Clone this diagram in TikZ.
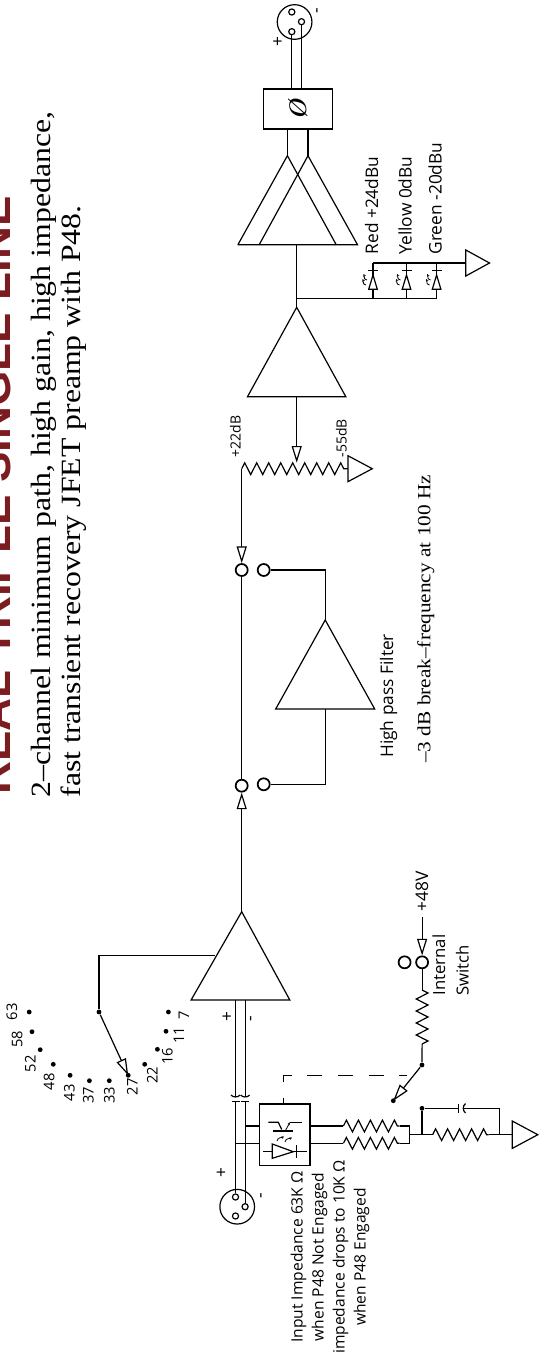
\documentclass[tikz,border=0pt]{standalone}
\usepackage{fontspec}
\setsansfont{Open Sans}
\newfontfamily\titlefont{Liberation Sans}
\newfontfamily\capfont[FakeStretch=1.14]{Liberation Serif}
\usetikzlibrary{arrows.meta,decorations.pathmorphing}
\definecolor{titlered}{HTML}{7B1C20}
\tikzset{every picture/.style={line width=0.9pt}}
\tikzset{
  lbl/.style={rotate=90,anchor=base west,inner sep=0pt,font=\sffamily\fontsize{13}{15}\selectfont},
  numlbl/.style={rotate=90,anchor=center,inner sep=0pt,font=\sffamily\fontsize{11}{12}\selectfont},
  signlbl/.style={rotate=90,anchor=center,inner sep=0pt,font=\sffamily\fontsize{13}{14}\selectfont},
  serifcap/.style={rotate=90,anchor=base west,inner sep=0pt},
  contact/.style={circle,draw,line width=1.3pt,minimum size=9pt,inner sep=0pt},
  pin/.style={circle,draw,minimum size=4.6pt,inner sep=0pt},
  xlrbody/.style={circle,draw,minimum size=26pt,inner sep=0pt},
  dot/.style={circle,fill,minimum size=3.6pt,inner sep=0pt},
  opentip/.style={-{Triangle[open,fill=white,length=12.5pt,width=7.5pt]}},
  smalltip/.style={-{Stealth[length=2pt,width=2pt]},line width=0.6pt},
  zig/.style={decorate,decoration={zigzag,segment length=9pt,amplitude=4.4pt}}
}

\begin{document}
\begin{tikzpicture}[x=0.75pt,y=0.75pt,yscale=-1,xscale=1]
\useasboundingbox (0,0) rectangle (539,1356);

% Title and caption
\node (title) [rotate=90,anchor=base west,inner sep=0pt,text=titlered,font=\titlefont\bfseries\fontsize{34.2}{36}\selectfont] at (10,795) {REAL TRIPLE SINGLE LINE};
\node (capone) [serifcap,font=\capfont\fontsize{20.9}{24}\selectfont] at (50,798) {2–channel minimum path, high gain, high impedance,};
\node (captwo) [serifcap,font=\capfont\fontsize{20.9}{24}\selectfont] at (80,798) {fast transient recovery JFET preamp with P48.};

% Output connector
\node (outbody) [xlrbody] at (294.6,22) {};
\node (outp) [pin] at (291.8,31.7) {};
\node (outm) [pin] at (301.5,21.7) {};
\node (outg) [pin] at (291.8,12) {};
\node (outplus) [signlbl] at (278.4,42) {+};
\node (outminus) [signlbl] at (319,11) {-};

% Phase box
\node (phase) [draw,minimum width=51.75pt,minimum height=30pt,inner sep=0pt] at (297.8,109) {};
\node (phasesym) [rotate=90,inner sep=0pt,font=\fontsize{18}{18}\selectfont\itshape\bfseries] at (298.4,110) {Ø};
\coordinate (phasep) at (291.8,89);
\coordinate (phasem) at (301.5,89);
\draw (outp) -- (phasep);
\draw (outm) -- (phasem);

% Output amp, two triangles
\coordinate (drvl) at (287.4,155.7);
\coordinate (drvr) at (308,155.7);
\draw (237.9,244.7) -- (drvl) -- (336.2,244.7);
\draw (259.2,244.7) -- (drvr) -- (357.5,244.7) -- (237.9,244.7);
\draw (287.4,129) -- (drvl);
\draw (308,129) -- (drvr);

% Line amp
\coordinate (drvin) at (296.7,244.7);
\coordinate (lineout) at (296.7,307.3);
\coordinate (ledbus) at (296.7,298.3);
\coordinate (lineamp) at (296.7,396.7);
\draw (247.5,396.7) -- (lineout) -- (345.8,396.7) -- cycle;
\draw (drvin) -- (lineout);

% LED meter
\draw (ledbus) -- (436.6,298.3);
\draw (373,263) -- (465.8,263);
\draw (373,298.3) -- (373,263);
\draw (406.5,298.3) -- (406.5,263);
\draw (436.6,298.3) -- (436.6,263);
\draw [fill=white] (368.7,289.3) -- (377.3,289.3) -- (373,275) -- cycle;
\draw (368,270.7) -- (378,270.7);
\draw [fill=white] (402.2,289.3) -- (410.8,289.3) -- (406.5,275) -- cycle;
\draw (401.5,270.7) -- (411.5,270.7);
\draw [fill=white] (432.3,289.3) -- (440.9,289.3) -- (436.6,275) -- cycle;
\draw (431.6,270.7) -- (441.6,270.7);
\draw [smalltip] (366,285) .. controls (362,284) and (364,282) .. (362.5,279);
\draw [smalltip] (367,280) .. controls (363,279) and (365,277) .. (363.5,274);
\draw [smalltip] (399.5,285) .. controls (395.5,284) and (397.5,282) .. (396,279);
\draw [smalltip] (400.5,280) .. controls (396.5,279) and (398.5,277) .. (397,274);
\draw [smalltip] (429.6,285) .. controls (425.6,284) and (427.6,282) .. (426.1,279);
\draw [smalltip] (430.6,280) .. controls (426.6,279) and (428.6,277) .. (427.1,274);
\draw [fill=white] (465.8,250) -- (489.5,263) -- (465.8,276) -- cycle;

% Text Node
\node (redled) [lbl] at (378,255) {Red +24dBu};
\node (yellowled) [lbl] at (411.5,255) {Yellow 0dBu};
\node (greenled) [lbl] at (441.7,255) {Green -20dBu};

% Gain pot
\coordinate (potl) at (241.7,468.7);
\coordinate (potw) at (296.7,462.7);
\coordinate (potr) at (347.9,468.7);
\draw [zig] (potl) -- (potr);
\draw [opentip] (lineamp) -- (potw);
\draw [fill=white] (347.9,455.7) -- (372.3,468.7) -- (347.9,481.7) -- cycle;
\node (potplus) [lbl,font=\sffamily\fontsize{10.5}{12}\selectfont] at (240.6,458) {+22dB};
\node (potminus) [lbl,font=\sffamily\fontsize{10.5}{12}\selectfont] at (346.5,457.7) {-55dB};

% High pass switch
\node (hpa) [contact] at (241.7,570) {};
\node (hpb) [contact] at (263.7,570) {};
\node (hpc) [contact] at (241.7,785.7) {};
\node (hpd) [contact] at (263.7,784.3) {};
\draw [opentip] (potl) -- (hpa);
\draw (hpa) -- (hpc);
\coordinate (hpout) at (325.2,620);
\coordinate (hpin) at (325.2,709);
\draw (275.7,709) -- (hpout) -- (374.7,709) -- cycle;
\draw (hpb) -| (hpout);
\draw (hpd) -| (hpin);
\node (hplabel) [lbl] at (393,758.3) {High pass Filter};
\node (hpnote) [serifcap,font=\capfont\fontsize{14}{17}\selectfont] at (430.4,763.3) {–3 dB break–frequency at 100 Hz};

% Mic amp
\coordinate (micout) at (241.7,911.7);
\draw (191.1,1000) -- (micout) -- (289.8,1000) -- cycle;
\draw [opentip] (micout) -- (hpc);
\coordinate (fbk) at (214.8,955.7);
\node (wiper) [dot] at (99,1012) {};
\draw (fbk) -| (wiper);

% Gain switch
\node (sa) [dot] at (29.2,1012) {};
\node (sb) [dot] at (32,1031.7) {};
\node (sc) [dot] at (40.2,1049.7) {};
\node (sd) [dot] at (53.3,1064.3) {};
\node (se) [dot] at (70.1,1075.3) {};
\node (sf) [dot] at (89.4,1080.7) {};
\node (sg) [dot] at (109.3,1080.7) {};
\node (sh) [dot] at (128.2,1075.3) {};
\node (si) [dot] at (144.7,1064.3) {};
\node (sj) [dot] at (157.4,1049.3) {};
\node (sk) [dot] at (166,1031.3) {};
\node (sl) [dot] at (168.4,1012) {};
\draw [opentip] (wiper) -- (sh.center);

% Text Node
\node (na) [numlbl] at (12,1011.7) {63};
\node (nb) [numlbl] at (17.2,1039) {58};
\node (nc) [numlbl] at (30.3,1063.7) {52};
\node (nd) [numlbl] at (49.2,1081.7) {48};
\node (ne) [numlbl] at (69.4,1092.7) {43};
\node (nf) [numlbl] at (88.3,1095) {37};
\node (ng) [numlbl] at (109.3,1095) {33};
\node (nh) [numlbl] at (132.3,1086.7) {27};
\node (ni) [numlbl] at (152.3,1075.3) {22};
\node (nj) [numlbl] at (167.4,1056) {16};
\node (nk) [numlbl] at (178.8,1035.3) {11};
\node (nl) [numlbl] at (183.9,1015) {7};

% Input lines with caps
\node (inbody) [xlrbody] at (237.2,1206.7) {};
\node (inp) [pin] at (235.5,1197) {};
\node (inm) [pin] at (245.1,1206.7) {};
\node (ing) [pin] at (235.5,1216) {};
\coordinate (capp) at (235.5,1096.7);
\coordinate (capm) at (245.1,1096.7);
\coordinate (platep) at (235.5,1101.7);
\coordinate (platem) at (245.1,1101.7);
\draw (235.5,1000) -- (capp);
\draw (245.1,1000) -- (capm);
\draw (231,1095) .. controls (233,1097.6) and (238,1097.6) .. (240,1095);
\draw (240.6,1095) .. controls (242.6,1097.6) and (247.6,1097.6) .. (249.6,1095);
\draw (231.5,1101.7) -- (239.5,1101.7);
\draw (241.1,1101.7) -- (249.1,1101.7);
\draw (platep) -- (inp);
\draw (platem) -- (inm);
\node (inplus) [signlbl] at (222,1172.7) {+};
\node (inminus) [signlbl] at (263,1196) {-};
\node (ampplus) [signlbl] at (227.6,1017) {+};
\node (ampminus) [signlbl] at (252.7,1019) {-};

% Opto box
\node (opto) [draw,line width=1.1pt,minimum width=37.9pt,minimum height=46pt,inner sep=0pt] at (284.75,1134.65) {};
\coordinate (optotop) at (283.3,1103.7);
\draw (245.1,1126) -- (259.5,1126);
\draw (235.5,1143.3) -- (259.5,1143.3);
\draw (268.3,1122.3) -- (278.3,1122.3) -- (281.7,1129.5);
\draw [line width=1.2pt] (273.3,1130.7) -- (293.3,1130.7);
\draw [smalltip] (285.7,1130) -- (290,1122.3);
\draw (290,1122.3) -- (301.7,1122.3);
\draw [smalltip] (277,1141) .. controls (278,1137) and (281,1138) .. (284,1136.5);
\draw [smalltip] (285,1142) .. controls (286,1138) and (289,1139) .. (292,1137.5);
\draw (272.3,1144) -- (293.3,1151.7) -- (272.3,1158.3) -- cycle;
\draw (263.3,1151.7) -- (272.3,1151.7);
\draw (293.3,1151.7) -- (306.7,1151.7);
\draw (296.7,1145) -- (296.7,1158.3);

% P48 resistors
\coordinate (rtl) at (343.4,1126);
\coordinate (rbl) at (343.4,1143.3);
\coordinate (rtr) at (399.5,1126);
\coordinate (rbr) at (399.5,1143.3);
\draw (310,1126) -- (rtl);
\draw (310,1143.3) -- (rbl);
\draw [zig] (rtl) -- (rtr);
\draw [zig] (rbl) -- (rbr);
\draw (rtr) -- (409.8,1126) -- (409.8,1143.3) -- (rbr);
\coordinate (sum) at (409.8,1134.7);
\coordinate (rgl) at (432.6,1134.7);
\coordinate (rgr) at (488.5,1134.7);
\coordinate (gnd) at (512.2,1134.7);
\draw (sum) -- (rgl);
\draw [zig] (rgl) -- (rgr);
\draw (rgr) -- (gnd);
\draw [fill=white] (512.2,1121) -- (537.8,1134.7) -- (512.2,1148.4) -- cycle;
\node (capjoin) [dot] at (422,1108.3) {};
\draw (capjoin) -- (422,1134.7);
\draw (capjoin) -- (458.3,1108.3);
\draw (458.3,1103.5) -- (458.3,1113);
\draw (465.5,1103.5) .. controls (462.5,1106) and (462.5,1110.5) .. (465.5,1113);
\draw (463.5,1108.3) -- (499.4,1108.3) -- (499.4,1134.7);

% P48 switch
\node (pa) [contact] at (422.1,962.3) {};
\node (pb) [contact] at (404.6,962.3) {};
\node (pjoin) [dot] at (422,1065) {};
\node (pthrow) [dot] at (393.3,1100.7) {};
\coordinate (plead) at (422.1,917.3);
\coordinate (prt) at (422.1,990);
\coordinate (prb) at (422.1,1047);
\draw [opentip] (plead) -- (pa);
\draw (pa) -- (prt);
\draw [zig] (prt) -- (prb);
\draw (prb) -- (pjoin);
\draw [opentip] (pjoin) -- (pthrow.center);
\draw [dash pattern=on 11.5pt off 11.55pt,dash phase=5.9pt] (406.7,1075.3) -- (283.3,1075.3) -- (optotop);

% Text Node
\node (plusv) [lbl] at (428,911.7) {+48V};
\node (intsw) [lbl,font=\sffamily\fontsize{12.5}{14}\selectfont] at (445,996) {Internal};
\node (intswb) [lbl,font=\sffamily\fontsize{12.5}{14}\selectfont] at (468.5,996) {Switch};
\node (impnote) [rotate=90,anchor=center,inner sep=0pt,align=center,font=\sffamily\fontsize{11.7}{15.75}\selectfont] at (330,1257) {Input Impedance 63K Ω\\when P48 Not Engaged\\impedance drops to 10K Ω\\when P48 Engaged};

\end{tikzpicture}
\end{document}
